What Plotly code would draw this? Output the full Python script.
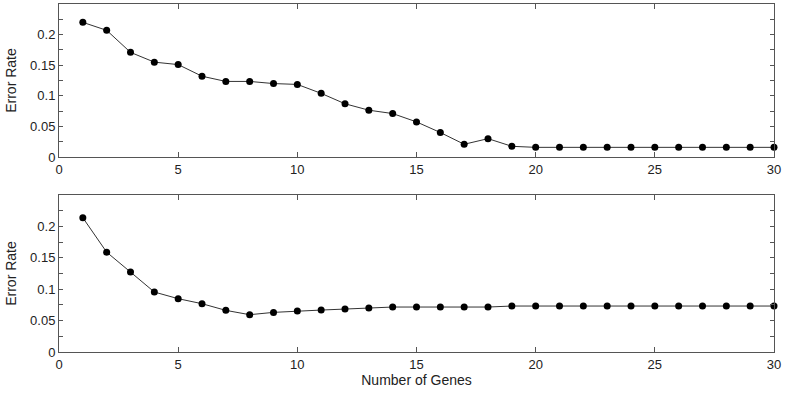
import plotly.graph_objects as go
from plotly.subplots import make_subplots

genes = list(range(1, 31))
top_err = [0.220, 0.207, 0.171, 0.155, 0.151, 0.132, 0.1235, 0.1235, 0.120, 0.1186,
           0.104, 0.087, 0.0765, 0.071, 0.0574, 0.040, 0.0208, 0.030, 0.0175, 0.0158,
           0.0158, 0.0158, 0.0158, 0.0158, 0.0158, 0.0158, 0.0158, 0.0158, 0.0158, 0.0158]
bottom_err = [0.2138, 0.159, 0.1273, 0.0955, 0.0849, 0.0769, 0.0663, 0.0594, 0.0631, 0.0653,
              0.0668, 0.0684, 0.070, 0.0716, 0.0716, 0.0716, 0.0716, 0.0716, 0.0732, 0.0732,
              0.0732, 0.0732, 0.0732, 0.0732, 0.0732, 0.0732, 0.0732, 0.0732, 0.0732, 0.0732]

y_tickvals = [0, 0.025, 0.05, 0.075, 0.1, 0.125, 0.15, 0.175, 0.2, 0.225]
y_ticktext = ["0", "", "0.05", "", "0.1", "", "0.15", "", "0.2", ""]
x_tickvals = [0, 5, 10, 15, 20, 25, 30]

fig = make_subplots(rows=2, cols=1, vertical_spacing=0.1)

for i, ys in enumerate([top_err, bottom_err], start=1):
    fig.add_trace(go.Scatter(
        x=genes, y=ys, mode="lines+markers",
        line=dict(color="#333333", width=1),
        marker=dict(symbol="circle", size=7, color="black"),
        showlegend=False, cliponaxis=False,
    ), row=i, col=1)

axis_font = dict(family="Liberation Sans, Arial, sans-serif", size=13, color="#222222")
title_font = dict(family="Liberation Sans, Arial, sans-serif", size=14, color="#222222")
for i in (1, 2):
    fig.update_xaxes(range=[0, 30], tickvals=x_tickvals, ticks="inside", ticklen=5,
                     tickcolor="#555555", showline=True, linecolor="#555555", linewidth=1,
                     mirror="ticks", showgrid=False, zeroline=False, tickfont=axis_font,
                     automargin=False, row=i, col=1)
    fig.update_yaxes(range=[0, 0.25], tickvals=y_tickvals, ticktext=y_ticktext,
                     ticks="inside", ticklen=4, tickcolor="#555555", showline=True,
                     linecolor="#555555", linewidth=1, mirror="ticks", showgrid=False,
                     zeroline=False, tickfont=axis_font, automargin=False,
                     title=dict(text="Error Rate", font=title_font, standoff=10),
                     row=i, col=1)

fig.update_xaxes(title=dict(text="Number of Genes", font=title_font, standoff=3), row=2, col=1)
fig.update_layout(
    xaxis=dict(domain=[0, 1]), yaxis=dict(domain=[0.5603, 1.0]),
    xaxis2=dict(domain=[0, 1]), yaxis2=dict(domain=[0.0, 0.4511]),
)

fig.update_layout(
    width=785, height=393,
    margin=dict(l=59, r=11, t=4, b=41, autoexpand=False),
    paper_bgcolor="white", plot_bgcolor="white",
    font=axis_font,
)

fig.write_html("out.html", config={"displayModeBar": False},
               post_script="document.body.style.margin='0';")
